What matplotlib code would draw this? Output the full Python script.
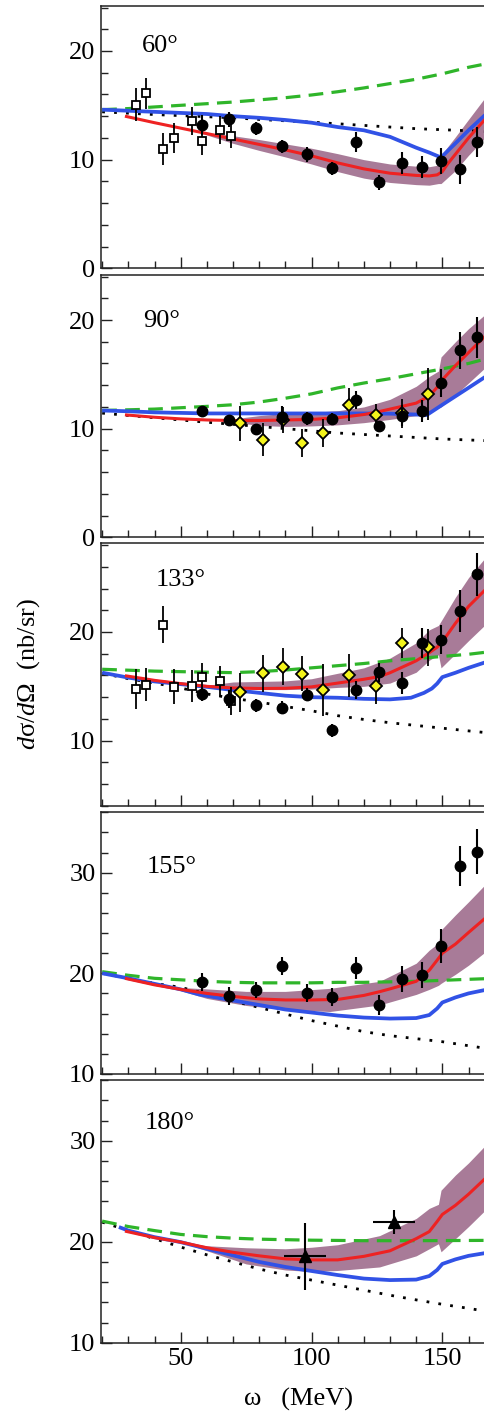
import matplotlib
matplotlib.use("Agg")
import matplotlib.pyplot as plt
from matplotlib.ticker import MultipleLocator

plt.rcParams['font.family'] = ['Liberation Serif', 'DejaVu Serif']
plt.rcParams['mathtext.fontset'] = 'custom'
plt.rcParams['mathtext.rm'] = 'Liberation Serif'
plt.rcParams['mathtext.it'] = 'Liberation Serif:italic'

# ---------------- data ----------------
angle_labels = ["60°", "90°", "133°", "155°", "180°"]
ylims = [(0, 24.14), (0, 24.17), (3.99, 28.16), (9.99, 36.06), (10.0, 36.01)]
y_major = [10, 10, 10, 10, 10]

# 60 deg
p60_sq_w = [32.8, 36.7, 43.4, 47.3, 54.2, 58.3, 65.0, 69.3]
p60_sq_y = [15.05, 16.1, 11.0, 12.0, 13.55, 11.75, 12.75, 12.2]
p60_sq_e = [1.5, 1.4, 1.45, 1.4, 1.3, 1.3, 1.3, 1.1]
p60_ci_w = [58.3, 68.3, 78.7, 88.6, 98.4, 107.8, 117.1, 125.8, 134.5, 142.1, 149.5, 156.9, 163.4]
p60_ci_y = [13.2, 13.7, 12.9, 11.25, 10.5, 9.2, 11.6, 7.9, 9.7, 9.3, 9.9, 9.1, 11.6]
p60_ci_e = [0.9, 0.7, 0.6, 0.6, 0.7, 0.6, 0.9, 0.7, 1.0, 1.0, 1.2, 1.3, 1.4]
p60_green_w = [20, 30, 40, 50, 60, 70, 80, 90, 100, 110, 120, 130, 140, 150, 160, 166.3]
p60_green_y = [14.6, 14.7, 14.85, 15.0, 15.15, 15.3, 15.5, 15.7, 15.95, 16.25, 16.6, 17.0, 17.4, 17.9, 18.5, 18.8]
p60_blue_w = [20, 30, 40, 50, 60, 70, 80, 90, 100, 110, 120, 130, 140, 145, 148, 149.5, 155, 160, 166.3]
p60_blue_y = [14.6, 14.5, 14.4, 14.3, 14.2, 14.0, 13.85, 13.65, 13.4, 13.0, 12.7, 12.1, 11.1, 10.65, 10.35, 10.2, 11.5, 12.7, 14.1]
p60_red_w = [28.7, 40, 50, 60, 70, 80, 90, 100, 110, 120, 130, 140, 145, 148, 150, 152, 155, 160, 166.3]
p60_red_y = [14.0, 13.4, 12.9, 12.4, 11.9, 11.4, 10.9, 10.35, 9.7, 9.15, 8.75, 8.55, 8.5, 8.6, 8.9, 9.6, 10.5, 12.0, 13.7]
p60_band_w = [55, 70, 80, 90, 100, 110, 120, 130, 140, 145, 148.5, 149.5, 155, 160, 166.3]
p60_band_lo = [12.65, 11.5, 10.85, 10.25, 9.6, 8.9, 8.3, 7.9, 7.7, 7.65, 7.8, 7.8, 9.0, 10.4, 12.0]
p60_band_hi = [12.65, 12.2, 11.85, 11.45, 11.05, 10.55, 10.0, 9.6, 9.4, 9.35, 9.5, 10.4, 12.1, 13.7, 15.7]
p60_dot_w = [20, 40, 60, 70, 80, 100, 120, 140, 166.3]
p60_dot_y = [14.4, 14.15, 13.95, 13.85, 13.7, 13.45, 13.15, 12.85, 12.6]

# 90 deg
p90_ci_w = [58.3, 68.3, 78.7, 88.6, 98.4, 107.8, 117.1, 125.8, 134.5, 142.1, 149.5, 156.9, 163.4]
p90_ci_y = [11.58, 10.78, 10.0, 11.1, 10.95, 10.9, 12.65, 10.2, 11.2, 11.6, 14.2, 17.2, 18.4]
p90_ci_e = [0.5, 0.4, 0.4, 1.0, 0.6, 0.5, 0.8, 0.5, 1.0, 1.0, 1.3, 1.7, 1.9]
p90_di_w = [72.7, 81.3, 89.0, 96.2, 104.3, 114.3, 124.5, 134.7, 144.6]
p90_di_y = [10.5, 9.0, 10.8, 8.7, 9.6, 12.2, 11.3, 11.4, 13.2]
p90_di_e = [1.6, 1.5, 1.2, 1.3, 1.3, 1.5, 1.0, 1.3, 2.4]
p90_green_w = [20, 40, 60, 70, 80, 90, 100, 110, 120, 130, 140, 150, 160, 166.3]
p90_green_y = [11.67, 11.8, 12.05, 12.2, 12.45, 12.8, 13.2, 13.75, 14.2, 14.6, 15.05, 15.5, 16.0, 16.4]
p90_blue_w = [20, 30, 40, 50, 60, 80, 100, 120, 130, 140, 144, 150, 155, 160, 166.3]
p90_blue_y = [11.67, 11.6, 11.5, 11.45, 11.4, 11.4, 11.4, 11.4, 11.38, 11.3, 11.25, 12.2, 12.98, 13.76, 14.75]
p90_red_w = [28.7, 40, 50, 60, 70, 80, 90, 100, 110, 120, 126, 130, 140, 145, 148, 150, 155, 160, 166.3]
p90_red_y = [11.27, 11.05, 10.9, 10.8, 10.75, 10.75, 10.8, 10.85, 11.0, 11.3, 11.58, 11.8, 12.35, 13.0, 13.8, 14.5, 15.8, 17.0, 18.5]
p90_band_w = [65, 80, 90, 100, 110, 120, 130, 140, 145, 148.5, 149.5, 155, 160, 166.3]
p90_band_lo = [10.75, 10.3, 10.2, 10.25, 10.35, 10.55, 10.85, 11.2, 11.5, 11.9, 12.0, 13.1, 14.2, 15.6]
p90_band_hi = [10.75, 11.2, 11.4, 11.5, 11.65, 12.0, 12.7, 13.9, 14.8, 15.3, 16.6, 18.0, 19.2, 20.5]
p90_dot_w = [20, 40, 57, 80, 95.5, 110, 134, 150, 166.3]
p90_dot_y = [11.43, 11.0, 10.65, 10.2, 9.89, 9.6, 9.27, 9.05, 8.9]

# 133 deg
p133_sq_w = [32.8, 36.7, 43.4, 47.3, 54.2, 58.3, 65.0, 69.3]
p133_sq_y = [14.76, 15.15, 20.67, 14.97, 15.03, 15.86, 15.46, 13.68]
p133_sq_e = [1.8, 1.5, 1.7, 1.6, 1.5, 1.3, 1.4, 1.3]
p133_ci_w = [58.3, 68.3, 78.7, 88.6, 98.4, 107.8, 117.1, 125.8, 134.5, 142.1, 149.5, 156.9, 163.4]
p133_ci_y = [14.27, 13.84, 13.25, 13.04, 14.23, 10.98, 14.66, 16.29, 15.28, 19.0, 19.3, 21.93, 25.3]
p133_ci_e = [0.6, 0.8, 0.6, 0.6, 0.6, 0.6, 0.8, 0.9, 1.0, 1.4, 1.3, 1.9, 2.0]
p133_di_w = [72.7, 81.3, 89.0, 96.2, 104.3, 114.3, 124.5, 134.7, 144.6]
p133_di_y = [14.45, 16.2, 16.8, 16.17, 14.7, 16.0, 15.0, 19.0, 18.6]
p133_di_e = [1.8, 1.7, 1.7, 1.6, 2.4, 2.0, 1.6, 1.4, 1.7]
p133_green_w = [20, 40, 60, 70, 80, 90, 100, 110, 120, 130, 140, 150, 160, 166.3]
p133_green_y = [16.57, 16.4, 16.3, 16.26, 16.35, 16.5, 16.7, 16.9, 17.1, 17.35, 17.55, 17.75, 17.95, 18.13]
p133_blue_w = [20, 30, 40, 50, 60, 70, 80, 90, 100, 110, 120, 130, 138, 143, 146, 148, 150, 155, 160, 166.3]
p133_blue_y = [16.26, 15.8, 15.45, 15.2, 14.95, 14.66, 14.4, 14.14, 14.0, 13.95, 13.85, 13.8, 13.95, 14.4, 14.8, 15.25, 15.85, 16.25, 16.7, 17.2]
p133_red_w = [28.7, 40, 50, 60, 70, 80, 90, 100, 110, 120, 126, 130, 140, 145, 148, 150, 155, 160, 166.3]
p133_red_y = [15.98, 15.55, 15.25, 15.0, 14.85, 14.8, 14.82, 14.95, 15.3, 15.65, 15.9, 16.25, 17.35, 18.1, 18.6, 19.1, 20.8, 22.35, 23.86]
p133_band_w = [57, 70, 80, 90, 100, 110, 120, 130, 140, 145, 148.5, 149.5, 155, 160, 166.3]
p133_band_lo = [15.0, 14.8, 14.7, 14.7, 14.75, 14.9, 15.0, 15.3, 16.3, 17.4, 17.9, 16.7, 18.0, 19.2, 20.65]
p133_band_hi = [15.0, 15.4, 15.45, 15.5, 15.7, 16.2, 16.7, 17.6, 19.0, 20.2, 20.6, 21.0, 23.2, 25.0, 26.8]
p133_dot_w = [20, 30, 40, 50, 60, 70, 80, 90, 100, 110, 120, 130, 140, 150, 160, 166.3]
p133_dot_y = [16.2, 15.7, 15.3, 14.85, 14.3, 13.9, 13.55, 13.15, 12.75, 12.3, 11.95, 11.65, 11.4, 11.15, 10.9, 10.75]

# 155 deg
p155_ci_w = [58.3, 68.3, 78.7, 88.6, 98.4, 107.8, 117.1, 125.8, 134.5, 142.1, 149.5, 156.9, 163.4]
p155_ci_y = [19.14, 17.72, 18.37, 20.7, 18.07, 17.6, 20.5, 16.82, 19.43, 19.83, 22.7, 30.65, 32.1]
p155_ci_e = [0.9, 0.9, 0.8, 0.9, 0.9, 0.9, 1.1, 1.0, 1.3, 1.3, 1.7, 2.0, 2.2]
p155_green_w = [20, 30, 40, 50, 60, 70, 80, 90, 100, 110, 120, 130, 140, 150, 160, 166.3]
p155_green_y = [20.16, 19.8, 19.5, 19.35, 19.2, 19.1, 19.05, 19.05, 19.05, 19.1, 19.1, 19.15, 19.2, 19.3, 19.4, 19.46]
p155_blue_w = [20, 30, 40, 50, 57, 70, 80, 90, 100, 110, 120, 130, 140, 145, 148, 150, 155, 160, 166.3]
p155_blue_y = [20.0, 19.5, 18.95, 18.4, 17.9, 17.3, 16.85, 16.4, 16.1, 15.8, 15.6, 15.5, 15.55, 15.85, 16.5, 17.1, 17.6, 18.0, 18.34]
p155_red_w = [28.7, 40, 50, 60, 70, 80, 90, 100, 110, 120, 126, 130, 140, 145, 148, 150, 155, 160, 166.3]
p155_red_y = [19.5, 18.85, 18.4, 18.0, 17.7, 17.45, 17.35, 17.35, 17.4, 17.8, 18.17, 18.45, 19.2, 20.3, 21.3, 22.0, 22.9, 24.05, 25.46]
p155_band_w = [45, 60, 75, 90, 107, 126, 140, 145, 148.5, 149.5, 155, 160, 166.3]
p155_band_lo = [18.65, 17.5, 16.8, 16.4, 16.2, 16.85, 17.9, 18.4, 18.8, 19.0, 19.9, 20.8, 22.1]
p155_band_hi = [18.65, 18.45, 18.2, 18.2, 18.5, 19.2, 21.0, 22.3, 23.0, 24.3, 25.8, 27.1, 28.8]
p155_dot_w = [20, 30, 40, 50, 60, 70, 80, 90, 100, 110, 120, 130, 140, 150, 160, 166.3]
p155_dot_y = [20.0, 19.5, 19.0, 18.6, 17.95, 17.25, 16.6, 15.95, 15.3, 14.75, 14.2, 13.8, 13.5, 13.2, 12.8, 12.55]

# 180 deg
p180_tr_w = [97.5, 131.6]
p180_tr_y = [18.54, 21.94]
p180_tr_ey = [3.3, 1.2]
p180_tr_ex = [8.0, 8.0]
p180_green_w = [20, 30, 40, 50, 60, 70, 80, 90, 100, 120, 140, 166.3]
p180_green_y = [22.04, 21.5, 21.1, 20.72, 20.5, 20.35, 20.25, 20.2, 20.15, 20.1, 20.1, 20.13]
p180_blue_w = [26.4, 30, 40, 50, 60, 70, 80, 90, 100, 110, 120, 130, 140, 145, 148, 150, 155, 160, 166.3]
p180_blue_y = [21.45, 21.1, 20.45, 19.96, 19.3, 18.65, 18.0, 17.5, 17.1, 16.7, 16.35, 16.2, 16.25, 16.6, 17.2, 17.8, 18.25, 18.6, 18.87]
p180_red_w = [28.7, 40, 50, 60, 70, 80, 90, 100, 110, 120, 130, 140, 145, 148, 150, 155, 160, 166.3]
p180_red_y = [21.05, 20.4, 19.96, 19.4, 18.95, 18.6, 18.3, 18.2, 18.2, 18.55, 19.1, 20.3, 21.0, 22.0, 22.7, 23.6, 24.7, 26.24]
p180_band_w = [50, 60, 75, 90, 100, 110, 126, 140, 145, 148.5, 149.5, 155, 160, 166.3]
p180_band_lo = [19.96, 19.1, 17.8, 17.2, 17.05, 17.15, 17.5, 18.6, 19.3, 19.8, 19.0, 20.3, 21.5, 23.1]
p180_band_hi = [19.96, 19.6, 19.4, 19.3, 19.45, 19.7, 20.6, 22.3, 23.3, 23.7, 25.1, 26.6, 27.8, 29.5]
p180_dot_w = [20, 30, 40, 50, 60, 70, 80, 90, 100, 110, 120, 130, 140, 150, 160, 166.3]
p180_dot_y = [21.94, 21.1, 20.3, 19.47, 18.7, 18.0, 17.3, 16.7, 16.2, 15.7, 15.2, 14.7, 14.24, 13.8, 13.4, 13.13]

xlim = (19.55, 166.3)
x_tick_labels = ["50", "100", "150"]

# ---------------- styles ----------------
C_GREEN = '#2fb52a'
C_BLUE = '#3152e6'
C_RED = '#ee2222'
C_BAND = '#a87b98'
C_YELLOW = '#f4f41c'
FS = 19

W, H = 485, 1412
fig = plt.figure(figsize=(W / 100, H / 100), dpi=100)

panel_px = [(6, 268.3), (274.7, 537.3), (543.3, 806), (811.7, 1074), (1080, 1342.7)]
label_px = [(141.7, 51.7), (143.3, 327.3), (156, 586), (146.7, 873.3), (145, 1129.3)]
left_px = 101

panels = [
    dict(green=(p60_green_w, p60_green_y), blue=(p60_blue_w, p60_blue_y), red=(p60_red_w, p60_red_y),
         band=(p60_band_w, p60_band_lo, p60_band_hi), dot=(p60_dot_w, p60_dot_y),
         sq=(p60_sq_w, p60_sq_y, p60_sq_e), ci=(p60_ci_w, p60_ci_y, p60_ci_e)),
    dict(green=(p90_green_w, p90_green_y), blue=(p90_blue_w, p90_blue_y), red=(p90_red_w, p90_red_y),
         band=(p90_band_w, p90_band_lo, p90_band_hi), dot=(p90_dot_w, p90_dot_y),
         di=(p90_di_w, p90_di_y, p90_di_e), ci=(p90_ci_w, p90_ci_y, p90_ci_e)),
    dict(green=(p133_green_w, p133_green_y), blue=(p133_blue_w, p133_blue_y), red=(p133_red_w, p133_red_y),
         band=(p133_band_w, p133_band_lo, p133_band_hi), dot=(p133_dot_w, p133_dot_y),
         sq=(p133_sq_w, p133_sq_y, p133_sq_e), di=(p133_di_w, p133_di_y, p133_di_e),
         ci=(p133_ci_w, p133_ci_y, p133_ci_e)),
    dict(green=(p155_green_w, p155_green_y), blue=(p155_blue_w, p155_blue_y), red=(p155_red_w, p155_red_y),
         band=(p155_band_w, p155_band_lo, p155_band_hi), dot=(p155_dot_w, p155_dot_y),
         ci=(p155_ci_w, p155_ci_y, p155_ci_e)),
    dict(green=(p180_green_w, p180_green_y), blue=(p180_blue_w, p180_blue_y), red=(p180_red_w, p180_red_y),
         band=(p180_band_w, p180_band_lo, p180_band_hi), dot=(p180_dot_w, p180_dot_y),
         tr=(p180_tr_w, p180_tr_y, p180_tr_ey, p180_tr_ex)),
]

for i, (pd, (yt, yb)) in enumerate(zip(panels, panel_px)):
    ax = fig.add_axes([left_px / W, 1 - yb / H, 1 - left_px / W, (yb - yt) / H])
    ax.set_xlim(*xlim)
    ax.set_ylim(*ylims[i])
    bw, blo, bhi = pd['band']
    ax.fill_between(bw, blo, bhi, color=C_BAND, lw=0, zorder=1)
    ax.plot(*pd['dot'], color='black', lw=2.0, ls=(0, (1, 3.3)), zorder=2)
    ax.plot(*pd['green'], color=C_GREEN, lw=2.3, ls=(0, (4.6, 2.6)), zorder=3)
    ax.plot(*pd['blue'], color=C_BLUE, lw=2.7, zorder=4, solid_capstyle='butt')
    ax.plot(*pd['red'], color=C_RED, lw=2.2, zorder=5, solid_capstyle='butt')
    if 'sq' in pd:
        w, y, e = pd['sq']
        ax.errorbar(w, y, yerr=e, fmt='s', ms=6, mfc='white', mec='black', mew=1.3,
                    ecolor='black', elinewidth=1.3, capsize=0, zorder=6)
    if 'di' in pd:
        w, y, e = pd['di']
        ax.errorbar(w, y, yerr=e, fmt='D', ms=6.2, mfc=C_YELLOW, mec='black', mew=1.3,
                    ecolor='black', elinewidth=1.3, capsize=0, zorder=7)
    if 'ci' in pd:
        w, y, e = pd['ci']
        ax.errorbar(w, y, yerr=e, fmt='o', ms=7.5, mfc='black', mec='black',
                    ecolor='black', elinewidth=1.5, capsize=0, zorder=8)
    if 'tr' in pd:
        w, y, ey, ex = pd['tr']
        ax.errorbar(w, y, yerr=ey, xerr=ex, fmt='^', ms=8, mfc='black', mec='black',
                    ecolor='black', elinewidth=1.5, capsize=0, zorder=8)

    ax.spines['right'].set_visible(False)
    for s in ['left', 'top', 'bottom']:
        ax.spines[s].set_linewidth(1.1)
        ax.spines[s].set_color('#222222')
    ax.xaxis.set_major_locator(MultipleLocator(50))
    ax.xaxis.set_minor_locator(MultipleLocator(10))
    ax.yaxis.set_major_locator(MultipleLocator(y_major[i]))
    ax.yaxis.set_minor_locator(MultipleLocator(2))
    ax.tick_params(which='both', direction='in', top=False, right=False, width=1.0, color='#222222')
    ax.tick_params(which='major', length=8)
    ax.tick_params(which='minor', length=5)
    ax.tick_params(axis='y', labelsize=FS, pad=4)
    ax.tick_params(axis='x', labelsize=FS, pad=4)
    if i < 4:
        ax.tick_params(axis='x', labelbottom=False)
    else:
        ax.set_xticks([50, 100, 150])
        ax.set_xticklabels(x_tick_labels)

    lx, ly = label_px[i]
    fig.text(lx / W, 1 - ly / H, angle_labels[i], fontsize=FS, ha='left', va='baseline')

fig.text(29 / W, 1 - 674 / H, r"$d$σ/$d$Ω  (nb/sr)", rotation=90, fontsize=FS,
         ha='center', va='center')
fig.text(298 / W, 1 - 1399 / H, "ω   (MeV)", fontsize=FS, ha='center', va='center')

fig.savefig("out.png", dpi=100)
